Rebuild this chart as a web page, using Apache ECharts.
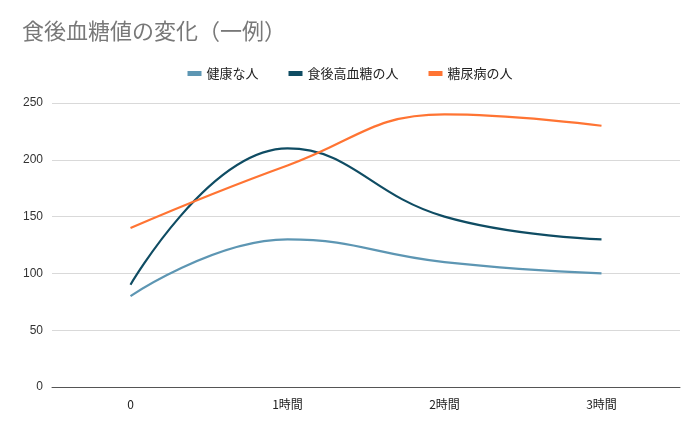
<!DOCTYPE html>
<html><head><meta charset="utf-8">
<script src="https://cdn.jsdelivr.net/npm/echarts@6/dist/echarts.min.js"></script>
<style>html,body{margin:0;padding:0;background:#fff}#c{width:700px;height:433px}</style>
</head><body><div id="c"></div>
<script>
const categories = ['0', '1時間', '2時間', '3時間'];
const healthy = [80, 130, 110, 100];
const highPost = [90, 210, 150, 130];
const diabetic = [140, 195, 240, 230];
const seriesNames = ['健康な人', '食後高血糖の人', '糖尿病の人'];
const colors = ['#5d96b3', '#0f4c63', '#ff7433'];
const FONT = '"Noto Sans CJK JP", "Liberation Sans", sans-serif';
const chart = echarts.init(document.getElementById('c'));
const mk = (name, data, color) => ({
  name, type: 'line', data, smooth: 0.45, symbol: 'none',
  lineStyle: { width: 2.2, color }, itemStyle: { color }
});
chart.setOption({
  animation: false,
  textStyle: { fontFamily: FONT },
  title: { text: '食後血糖値の変化（一例）', left: 17, top: 15,
    textStyle: { fontFamily: FONT, fontSize: 22, fontWeight: 'normal', color: '#787878' } },
  legend: { top: 62, left: 'center', itemWidth: 14, itemHeight: 5, itemGap: 30, icon: 'rect',
    textStyle: { fontFamily: FONT, fontSize: 13, color: '#222' },
    data: seriesNames },
  grid: { left: 52, right: 20, top: 103, bottom: 46 },
  xAxis: { type: 'category', data: categories, boundaryGap: true,
    axisLine: { lineStyle: { color: '#555', width: 1 } }, axisTick: { show: false },
    axisLabel: { color: '#222', fontSize: 12, margin: 11, fontFamily: FONT } },
  yAxis: { type: 'value', min: 0, max: 250, interval: 50,
    axisLine: { show: false }, axisTick: { show: false },
    axisLabel: { color: '#333', fontSize: 12, margin: 9, fontFamily: '"Liberation Sans", sans-serif' },
    splitLine: { lineStyle: { color: '#d9d9d9' } } },
  series: [mk(seriesNames[0], healthy, colors[0]), mk(seriesNames[1], highPost, colors[1]), mk(seriesNames[2], diabetic, colors[2])]
});
</script></body></html>
